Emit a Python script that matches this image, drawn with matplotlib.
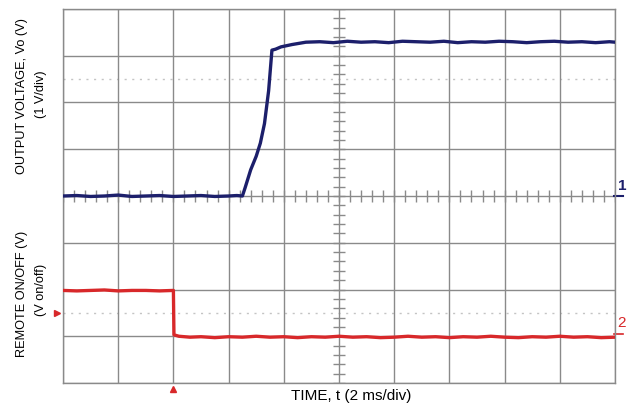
import matplotlib
matplotlib.use("Agg")
import matplotlib.pyplot as plt
import numpy as np

# time in ms, levels in divisions (0 = bottom gridline, 8 = top)
vo_t = [0.0, 0.5, 1.0, 1.5, 2.0, 2.5, 3.0, 3.5, 4.0, 4.5, 5.0, 5.5, 6.0, 6.3,
        6.5, 6.6, 6.8, 7.0, 7.15, 7.3, 7.45, 7.57, 7.7, 7.9, 8.3, 8.8, 9.3,
        9.8, 10.3, 10.8, 11.3, 11.8, 12.3, 12.8, 13.3, 13.8, 14.3, 14.8,
        15.3, 15.8, 16.3, 16.8, 17.3, 17.8, 18.3, 18.8, 19.3, 19.8, 20.0]
vo_div = [4.00, 4.01, 3.99, 4.00, 4.02, 3.99, 4.00, 4.01, 3.99, 4.00, 4.01,
          3.99, 4.00, 4.01, 4.00, 4.18, 4.56, 4.85, 5.13, 5.55, 6.25, 7.12,
          7.14, 7.19, 7.24, 7.29, 7.30, 7.28, 7.31, 7.29, 7.30, 7.28, 7.31,
          7.30, 7.29, 7.31, 7.28, 7.30, 7.29, 7.31, 7.30, 7.28, 7.30, 7.31,
          7.29, 7.30, 7.28, 7.30, 7.29]

onoff_t = [0.0, 0.5, 1.0, 1.5, 2.0, 2.5, 3.0, 3.5, 4.0, 4.02, 4.2, 4.6, 5.0,
           5.5, 6.0, 6.5, 7.0, 7.5, 8.0, 8.5, 9.0, 9.5, 10.0, 10.5, 11.0,
           11.5, 12.0, 12.5, 13.0, 13.5, 14.0, 14.5, 15.0, 15.5, 16.0, 16.5,
           17.0, 17.5, 18.0, 18.5, 19.0, 19.5, 20.0]
onoff_div = [1.98, 1.97, 1.98, 1.99, 1.97, 1.98, 1.98, 1.97, 1.98, 1.03, 1.00,
             0.98, 0.99, 0.97, 0.99, 0.98, 1.00, 0.98, 0.99, 0.97, 0.99, 0.98,
             1.00, 0.98, 0.99, 0.97, 0.98, 1.00, 0.98, 0.99, 0.97, 0.99, 0.98,
             1.00, 0.98, 0.97, 0.99, 0.98, 1.00, 0.98, 0.99, 0.97, 0.98]

ref_levels = [6.5, 1.5]

navy = "#1c1f6b"
red = "#d8282a"
grid_col = "#8a8a8a"

plt.rcParams['font.family'] = ['Liberation Sans', 'DejaVu Sans']

fig = plt.figure(figsize=(6.29, 4.04), dpi=100)
ax = fig.add_axes([63 / 629, 21 / 404, 552 / 629, 374 / 404])
ax.set_xlim(0, 20)
ax.set_ylim(0, 8)
ax.set_xticks(np.arange(0, 21, 2))
ax.set_yticks(np.arange(0, 9, 1))
ax.tick_params(length=0, labelbottom=False, labelleft=False)
ax.grid(True, color=grid_col, lw=1.0)
for s in ax.spines.values():
    s.set_color(grid_col)
    s.set_linewidth(1.0)

# faint reference levels
for lv in ref_levels:
    ax.axhline(lv, color="#c4c4c4", lw=1.0, ls=(0, (1.5, 4)), zorder=1)

# center graticule ticks
ax.plot(np.full(41, 10.0), np.arange(0, 8.01, 0.2), ls="none", marker="_",
        ms=8, mew=1.0, color=grid_col, zorder=2)
ax.plot(np.arange(0, 20.01, 0.4), np.full(51, 4.0), ls="none", marker="|",
        ms=8, mew=1.0, color=grid_col, zorder=2)

ax.plot(vo_t, vo_div, color=navy, lw=2.4, zorder=4)
ax.plot(onoff_t, onoff_div, color=red, lw=2.4, zorder=4)

# channel / trigger markers
ax.text(20.1, 4.06, "1", color=navy, fontsize=11, fontweight="bold",
        ha="left", va="bottom", clip_on=False)
ax.plot([19.97, 20.3], [4.0, 4.0], color=navy, lw=1.5, clip_on=False)
ax.text(20.08, 1.28, "2", color=red, fontsize=11, ha="left", va="center",
        clip_on=False)
ax.plot([19.97, 20.3], [1.04, 1.04], color=red, lw=1.2, clip_on=False)
ax.plot([-0.2], [1.5], marker=">", ms=5, color=red, clip_on=False)
ax.plot([4.0], [-0.12], marker="^", ms=5, color=red, clip_on=False)

fig.text(22 / 629, 1 - 96 / 404, "OUTPUT VOLTAGE, Vo (V)", rotation=90,
         ha="center", va="center", fontsize=9.2)
fig.text(41 / 629, 1 - 94 / 404, "(1 V/div)", rotation=90,
         ha="center", va="center", fontsize=9.2)
fig.text(22 / 629, 1 - 294 / 404, "REMOTE ON/OFF (V)", rotation=90,
         ha="center", va="center", fontsize=9.2)
fig.text(41 / 629, 1 - 290 / 404, "(V on/off)", rotation=90,
         ha="center", va="center", fontsize=9.2)
fig.text(351 / 629, 1 - 400 / 404, "TIME, t (2 ms/div)", ha="center",
         va="baseline", fontsize=11)

fig.savefig("out.png", dpi=100)
